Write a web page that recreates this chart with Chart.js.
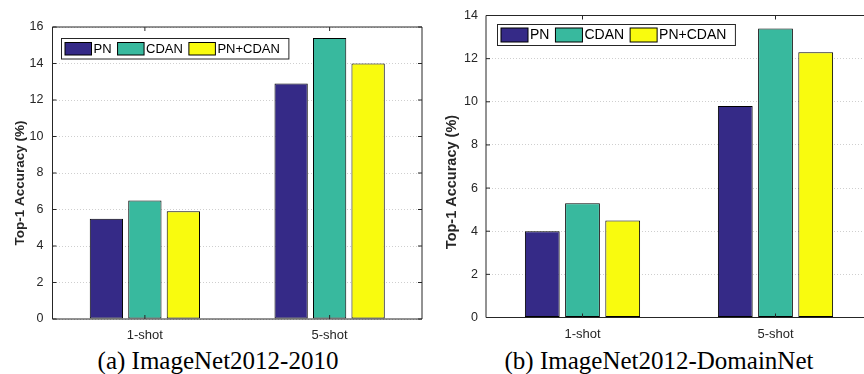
<!DOCTYPE html>
<html>
<head>
<meta charset="utf-8">
<script src="https://cdn.jsdelivr.net/npm/chart.js@4/dist/chart.umd.min.js"></script>
<style>
    html, body { margin: 0; padding: 0; background: #ffffff; overflow: hidden; }
    #page { position: relative; width: 864px; height: 374px; overflow: hidden; }
    canvas { position: absolute; top: 0; }
    #chartA { left: 0; }
    #chartB { left: 432px; }
    .caption {
        position: absolute;
        top: 348px;
        font-family: "Liberation Serif", serif;
        font-size: 25px;
        line-height: 25px;
        color: #000000;
        white-space: nowrap;
        transform: translateX(-50%);
    }
</style>
</head>
<body>
<div id="page">
    <canvas id="chartA" width="432" height="340"></canvas>
    <canvas id="chartB" width="450" height="340"></canvas>
    <div class="caption" id="captionA" style="left: 218px;"></div>
    <div class="caption" id="captionB" style="left: 659px;"></div>
</div>
<script>
'use strict';

// Data
const categories = ['1-shot', '5-shot'];
const seriesNames = ['PN', 'CDAN', 'PN+CDAN'];
const seriesColors = ['#352a87', '#38b99e', '#f9fb0e'];

// (a) ImageNet2012-2010
const pnA = [5.5, 12.9];
const cdanA = [6.5, 15.4];
const bothA = [5.9, 14.0];
const yMaxA = 16;

// (b) ImageNet2012-DomainNet
const pnB = [4.0, 9.8];
const cdanB = [5.3, 13.4];
const bothB = [4.5, 12.3];
const yMaxB = 14;

const yStep = 2;
const yTitle = 'Top-1 Accuracy (%)';
const captions = ['(a) ImageNet2012-2010', '(b) ImageNet2012-DomainNet'];

const AXIS_COLOR = '#262626';
const FONT = '"Liberation Sans", Arial, sans-serif';

/**
 * MATLAB-like axes: box frame, inward ticks, in-plot legend, y title
 */
const matlabAxes = {
    id: 'matlabAxes',
    afterDraw(chart, args, opts) {
        const ctx = chart.ctx;
        const area = chart.chartArea;
        const xs = chart.scales.x;
        const ys = chart.scales.y;
        const tick = 4;

        ctx.save();
        ctx.strokeStyle = AXIS_COLOR;
        ctx.lineWidth = 1;

        // frame
        ctx.beginPath();
        ctx.rect(area.left, area.top, area.right - area.left, area.bottom - area.top);
        ctx.stroke();

        // inward tick marks
        ctx.beginPath();
        ys.ticks.forEach(t => {
            const y = ys.getPixelForValue(t.value);
            ctx.moveTo(area.left, y);
            ctx.lineTo(area.left + tick, y);
            ctx.moveTo(area.right, y);
            ctx.lineTo(area.right - tick, y);
        });
        xs.ticks.forEach((t, i) => {
            const x = xs.getPixelForTick(i);
            ctx.moveTo(x, area.bottom);
            ctx.lineTo(x, area.bottom - tick);
            ctx.moveTo(x, area.top);
            ctx.lineTo(x, area.top + tick);
        });
        ctx.stroke();

        // y axis title
        ctx.fillStyle = AXIS_COLOR;
        ctx.font = 'bold ' + opts.titleSize + 'px ' + FONT;
        ctx.textAlign = 'center';
        ctx.textBaseline = 'middle';
        ctx.translate(opts.titleX, opts.titleY);
        ctx.rotate(-Math.PI / 2);
        ctx.fillText(yTitle, 0, 0);
        ctx.setTransform(1, 0, 0, 1, 0, 0);

        // legend inside plot
        const lg = opts.legend;
        ctx.font = lg.size + 'px ' + FONT;
        ctx.textAlign = 'left';
        let x = lg.x + lg.pad;
        const items = chart.data.datasets.map(ds => {
            const item = { x: x, label: ds.label, color: ds.backgroundColor };
            x += lg.swW + lg.gap + ctx.measureText(ds.label).width + lg.sep;
            return item;
        });
        const boxW = x - lg.sep + lg.padRight - lg.x;
        ctx.fillStyle = '#ffffff';
        ctx.fillRect(lg.x, lg.y, boxW, lg.h);
        ctx.strokeStyle = AXIS_COLOR;
        ctx.strokeRect(lg.x, lg.y, boxW, lg.h);
        const swY = lg.y + (lg.h - lg.swH) / 2;
        items.forEach(it => {
            ctx.fillStyle = it.color;
            ctx.fillRect(it.x, swY, lg.swW, lg.swH);
            ctx.strokeStyle = '#000000';
            ctx.strokeRect(it.x, swY, lg.swW, lg.swH);
            ctx.fillStyle = '#000000';
            ctx.fillText(it.label, it.x + lg.swW + lg.gap, lg.y + lg.h / 2 + 0.5);
        });
        ctx.restore();
    }
};

/**
 * Build one grouped bar chart
 */
function makeChart(id, values, yMax, cfg) {
    const ctx = document.getElementById(id);
    return new Chart(ctx, {
        type: 'bar',
        data: {
            labels: categories,
            datasets: values.map((v, i) => ({
                label: seriesNames[i],
                data: v,
                backgroundColor: seriesColors[i],
                borderColor: '#000000',
                borderWidth: 1,
                borderSkipped: false,
                categoryPercentage: 0.625,
                barPercentage: 0.865
            }))
        },
        options: {
            responsive: false,
            animation: false,
            devicePixelRatio: 1,
            layout: {
                padding: { left: 0, right: cfg.padRight, top: cfg.padTop, bottom: 0 }
            },
            plugins: {
                legend: { display: false },
                tooltip: { enabled: false },
                matlabAxes: cfg.axes
            },
            scales: {
                x: {
                    afterFit: s => { s.height = cfg.xHeight; },
                    grid: { display: false, drawTicks: false },
                    border: { display: false },
                    ticks: {
                        color: AXIS_COLOR,
                        padding: cfg.xPad,
                        font: { family: FONT, size: 13 }
                    }
                },
                y: {
                    min: 0,
                    max: yMax,
                    afterFit: s => { s.width = cfg.yWidth; },
                    grid: { color: '#cfcfcf', drawTicks: false },
                    border: { display: false, dash: [1, 2] },
                    ticks: {
                        stepSize: yStep,
                        color: AXIS_COLOR,
                        padding: cfg.yPad,
                        font: { family: FONT, size: 12.5 }
                    }
                }
            }
        },
        plugins: [matlabAxes]
    });
}

function init() {
    makeChart('chartA', [pnA, cdanA, bothA], yMaxA, {
        padTop: 27, padRight: 10, xHeight: 21, yWidth: 52.5, xPad: 9, yPad: 9,
        axes: {
            titleSize: 13.5, titleX: 20, titleY: 183,
            legend: { x: 61.5, y: 38.5, h: 20.5, swW: 26.5, swH: 12.5, size: 13, pad: 3.5, gap: 2, sep: 6, padRight: 9 }
        }
    });
    makeChart('chartB', [pnB, cdanB, bothB], yMaxB, {
        padTop: 12.5, padRight: 10, xHeight: 22.5, yWidth: 54, xPad: 9, yPad: 8,
        axes: {
            titleSize: 14.5, titleX: 20, titleY: 182,
            legend: { x: 65.5, y: 24.5, h: 21, swW: 27, swH: 14, size: 14, pad: 3.5, gap: 2, sep: 6, padRight: 9 }
        }
    });
    document.getElementById('captionA').textContent = captions[0];
    document.getElementById('captionB').textContent = captions[1];
}

if (document.readyState === 'loading') {
    document.addEventListener('DOMContentLoaded', init);
} else {
    init();
}
</script>
</body>
</html>
